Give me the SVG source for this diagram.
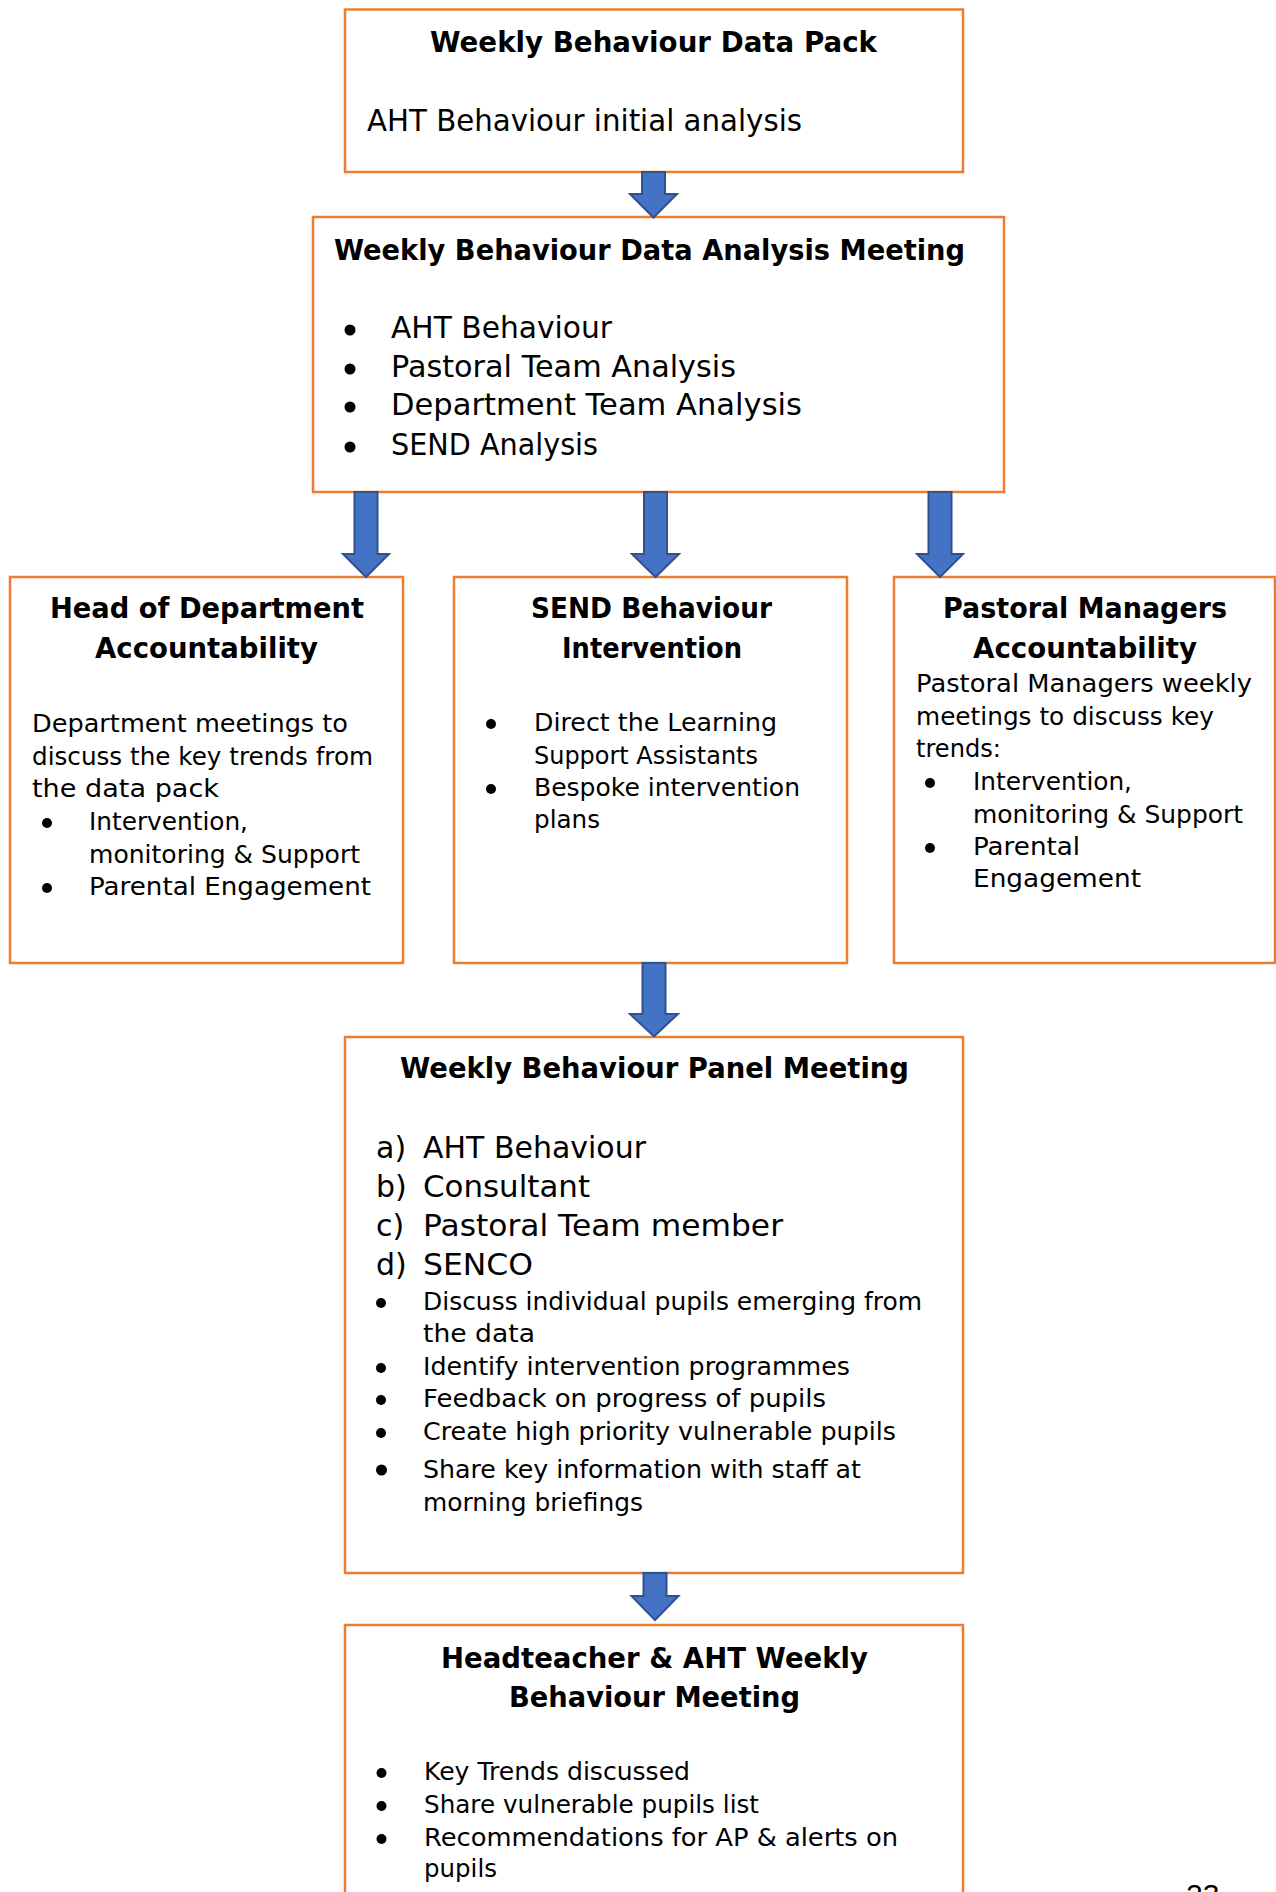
<svg xmlns="http://www.w3.org/2000/svg" width="1276" height="1892" viewBox="0 0 1276 1892">
<style>
.box{fill:#fff;stroke:#ED7D31;stroke-width:2.5}
.arrow{fill:#4472C4;stroke:#2F528F;stroke-width:2;stroke-linejoin:miter}
text{font-family:"DejaVu Sans","Liberation Sans",sans-serif;fill:#000}
.ti{font-weight:bold;font-size:28.5px}
.big{font-size:30px}
.bd{font-size:25.6px}
.pg{font-family:"Liberation Sans",Arial,sans-serif;font-size:30px}
.bu{fill:#000}
</style>
<rect x="0" y="0" width="1276" height="1892" fill="#fff"/>
<g id="node-data-pack">
<rect class="box" x="345" y="9.5" width="618" height="162.5"/>
<text class="ti" x="430" y="52" textLength="447" lengthAdjust="spacingAndGlyphs">Weekly Behaviour Data Pack</text>
<text class="big" x="367" y="131" textLength="435" lengthAdjust="spacingAndGlyphs">AHT Behaviour initial analysis</text>
</g>
<g id="node-analysis-meeting">
<rect class="box" x="313" y="217" width="691" height="275"/>
<text class="ti" x="334" y="260" textLength="631" lengthAdjust="spacingAndGlyphs">Weekly Behaviour Data Analysis Meeting</text>
<circle class="bu" cx="350" cy="330" r="5.5"/>
<text class="big" x="391" y="338" textLength="221" lengthAdjust="spacingAndGlyphs">AHT Behaviour</text>
<circle class="bu" cx="350" cy="369" r="5.5"/>
<text class="big" x="391" y="377" textLength="345" lengthAdjust="spacingAndGlyphs">Pastoral Team Analysis</text>
<circle class="bu" cx="350" cy="407" r="5.5"/>
<text class="big" x="391" y="415" textLength="411" lengthAdjust="spacingAndGlyphs">Department Team Analysis</text>
<circle class="bu" cx="350" cy="447" r="5.5"/>
<text class="big" x="391" y="455" textLength="207" lengthAdjust="spacingAndGlyphs">SEND Analysis</text>
</g>
<g id="node-hod">
<rect class="box" x="10" y="577" width="393" height="386"/>
<text class="ti" x="50" y="618" textLength="314" lengthAdjust="spacingAndGlyphs">Head of Department</text>
<text class="ti" x="95" y="658" textLength="223" lengthAdjust="spacingAndGlyphs">Accountability</text>
<text class="bd" x="32" y="732" textLength="316" lengthAdjust="spacingAndGlyphs">Department meetings to</text>
<text class="bd" x="32" y="765" textLength="341" lengthAdjust="spacingAndGlyphs">discuss the key trends from</text>
<text class="bd" x="32" y="797" textLength="187" lengthAdjust="spacingAndGlyphs">the data pack</text>
<circle class="bu" cx="47" cy="823" r="5"/>
<text class="bd" x="89" y="830" textLength="159" lengthAdjust="spacingAndGlyphs">Intervention,</text>
<text class="bd" x="89" y="863" textLength="271" lengthAdjust="spacingAndGlyphs">monitoring &amp; Support</text>
<circle class="bu" cx="47" cy="888" r="5"/>
<text class="bd" x="89" y="895" textLength="282" lengthAdjust="spacingAndGlyphs">Parental Engagement</text>
</g>
<g id="node-send">
<rect class="box" x="454" y="577" width="393" height="386"/>
<text class="ti" x="531" y="618" textLength="241" lengthAdjust="spacingAndGlyphs">SEND Behaviour</text>
<text class="ti" x="562" y="658" textLength="180" lengthAdjust="spacingAndGlyphs">Intervention</text>
<circle class="bu" cx="491" cy="724" r="5"/>
<text class="bd" x="534" y="731" textLength="243" lengthAdjust="spacingAndGlyphs">Direct the Learning</text>
<text class="bd" x="534" y="764" textLength="224" lengthAdjust="spacingAndGlyphs">Support Assistants</text>
<circle class="bu" cx="491" cy="789" r="5"/>
<text class="bd" x="534" y="796" textLength="266" lengthAdjust="spacingAndGlyphs">Bespoke intervention</text>
<text class="bd" x="534" y="828" textLength="66" lengthAdjust="spacingAndGlyphs">plans</text>
</g>
<g id="node-pastoral">
<rect class="box" x="894" y="577" width="381" height="386"/>
<text class="ti" x="943" y="618" textLength="284" lengthAdjust="spacingAndGlyphs">Pastoral Managers</text>
<text class="ti" x="973" y="658" textLength="224" lengthAdjust="spacingAndGlyphs">Accountability</text>
<text class="bd" x="916" y="692" textLength="336" lengthAdjust="spacingAndGlyphs">Pastoral Managers weekly</text>
<text class="bd" x="916" y="725" textLength="298" lengthAdjust="spacingAndGlyphs">meetings to discuss key</text>
<text class="bd" x="916" y="757" textLength="85" lengthAdjust="spacingAndGlyphs">trends:</text>
<circle class="bu" cx="930" cy="783" r="5"/>
<text class="bd" x="973" y="790" textLength="159" lengthAdjust="spacingAndGlyphs">Intervention,</text>
<text class="bd" x="973" y="823" textLength="270" lengthAdjust="spacingAndGlyphs">monitoring &amp; Support</text>
<circle class="bu" cx="930" cy="848" r="5"/>
<text class="bd" x="973" y="855" textLength="107" lengthAdjust="spacingAndGlyphs">Parental</text>
<text class="bd" x="973" y="887" textLength="168" lengthAdjust="spacingAndGlyphs">Engagement</text>
</g>
<g id="node-panel">
<rect class="box" x="345" y="1037" width="618" height="536"/>
<text class="ti" x="400" y="1078" textLength="509" lengthAdjust="spacingAndGlyphs">Weekly Behaviour Panel Meeting</text>
<text class="big" x="376" y="1158">a)</text>
<text class="big" x="423" y="1158" textLength="223" lengthAdjust="spacingAndGlyphs">AHT Behaviour</text>
<text class="big" x="376" y="1197">b)</text>
<text class="big" x="423" y="1197" textLength="167" lengthAdjust="spacingAndGlyphs">Consultant</text>
<text class="big" x="376" y="1236">c)</text>
<text class="big" x="423" y="1236" textLength="360" lengthAdjust="spacingAndGlyphs">Pastoral Team member</text>
<text class="big" x="376" y="1275">d)</text>
<text class="big" x="423" y="1275" textLength="110" lengthAdjust="spacingAndGlyphs">SENCO</text>
<circle class="bu" cx="381" cy="1303" r="5"/>
<text class="bd" x="423" y="1310" textLength="499" lengthAdjust="spacingAndGlyphs">Discuss individual pupils emerging from</text>
<text class="bd" x="423" y="1342" textLength="112" lengthAdjust="spacingAndGlyphs">the data</text>
<circle class="bu" cx="381" cy="1368" r="5"/>
<text class="bd" x="423" y="1375" textLength="427" lengthAdjust="spacingAndGlyphs">Identify intervention programmes</text>
<circle class="bu" cx="381" cy="1400" r="5"/>
<text class="bd" x="423" y="1407" textLength="403" lengthAdjust="spacingAndGlyphs">Feedback on progress of pupils</text>
<circle class="bu" cx="381" cy="1433" r="5"/>
<text class="bd" x="423" y="1440" textLength="473" lengthAdjust="spacingAndGlyphs">Create high priority vulnerable pupils</text>
<circle class="bu" cx="381.5" cy="1470" r="5.5"/>
<text class="bd" x="423" y="1478" textLength="438" lengthAdjust="spacingAndGlyphs">Share key information with staff at</text>
<text class="bd" x="423" y="1511" textLength="220" lengthAdjust="spacingAndGlyphs">morning briefings</text>
</g>
<g id="node-headteacher">
<rect class="box" x="345" y="1625" width="618" height="330"/>
<text class="ti" x="441" y="1668" textLength="427" lengthAdjust="spacingAndGlyphs">Headteacher &amp; AHT Weekly</text>
<text class="ti" x="509" y="1707" textLength="291" lengthAdjust="spacingAndGlyphs">Behaviour Meeting</text>
<circle class="bu" cx="381.5" cy="1773" r="5"/>
<text class="bd" x="424" y="1780" textLength="266" lengthAdjust="spacingAndGlyphs">Key Trends discussed</text>
<circle class="bu" cx="381.5" cy="1806" r="5"/>
<text class="bd" x="424" y="1813" textLength="335" lengthAdjust="spacingAndGlyphs">Share vulnerable pupils list</text>
<circle class="bu" cx="381.5" cy="1839" r="5"/>
<text class="bd" x="424" y="1846" textLength="474" lengthAdjust="spacingAndGlyphs">Recommendations for AP &amp; alerts on</text>
<text class="bd" x="424" y="1877" textLength="73" lengthAdjust="spacingAndGlyphs">pupils</text>
</g>
<g id="connectors">
<polygon class="arrow" points="642,172 665,172 665,194 677,194 653.5,217.5 630,194 642,194"/>
<polygon class="arrow" points="354.5,492 377.5,492 377.5,554 389,554 366,577 343,554 354.5,554"/>
<polygon class="arrow" points="644,492 667,492 667,554 679,554 655.5,577 632,554 644,554"/>
<polygon class="arrow" points="928.5,492 951.5,492 951.5,554 963,554 940,577 917,554 928.5,554"/>
<polygon class="arrow" points="642.5,963 665.5,963 665.5,1014 678,1014 654,1036.5 630,1014 642.5,1014"/>
<polygon class="arrow" points="643.5,1573 666.5,1573 666.5,1596 678.5,1596 655,1620 631.5,1596 643.5,1596"/>
</g>
<text class="pg" x="1186" y="1905">23</text>
</svg>
